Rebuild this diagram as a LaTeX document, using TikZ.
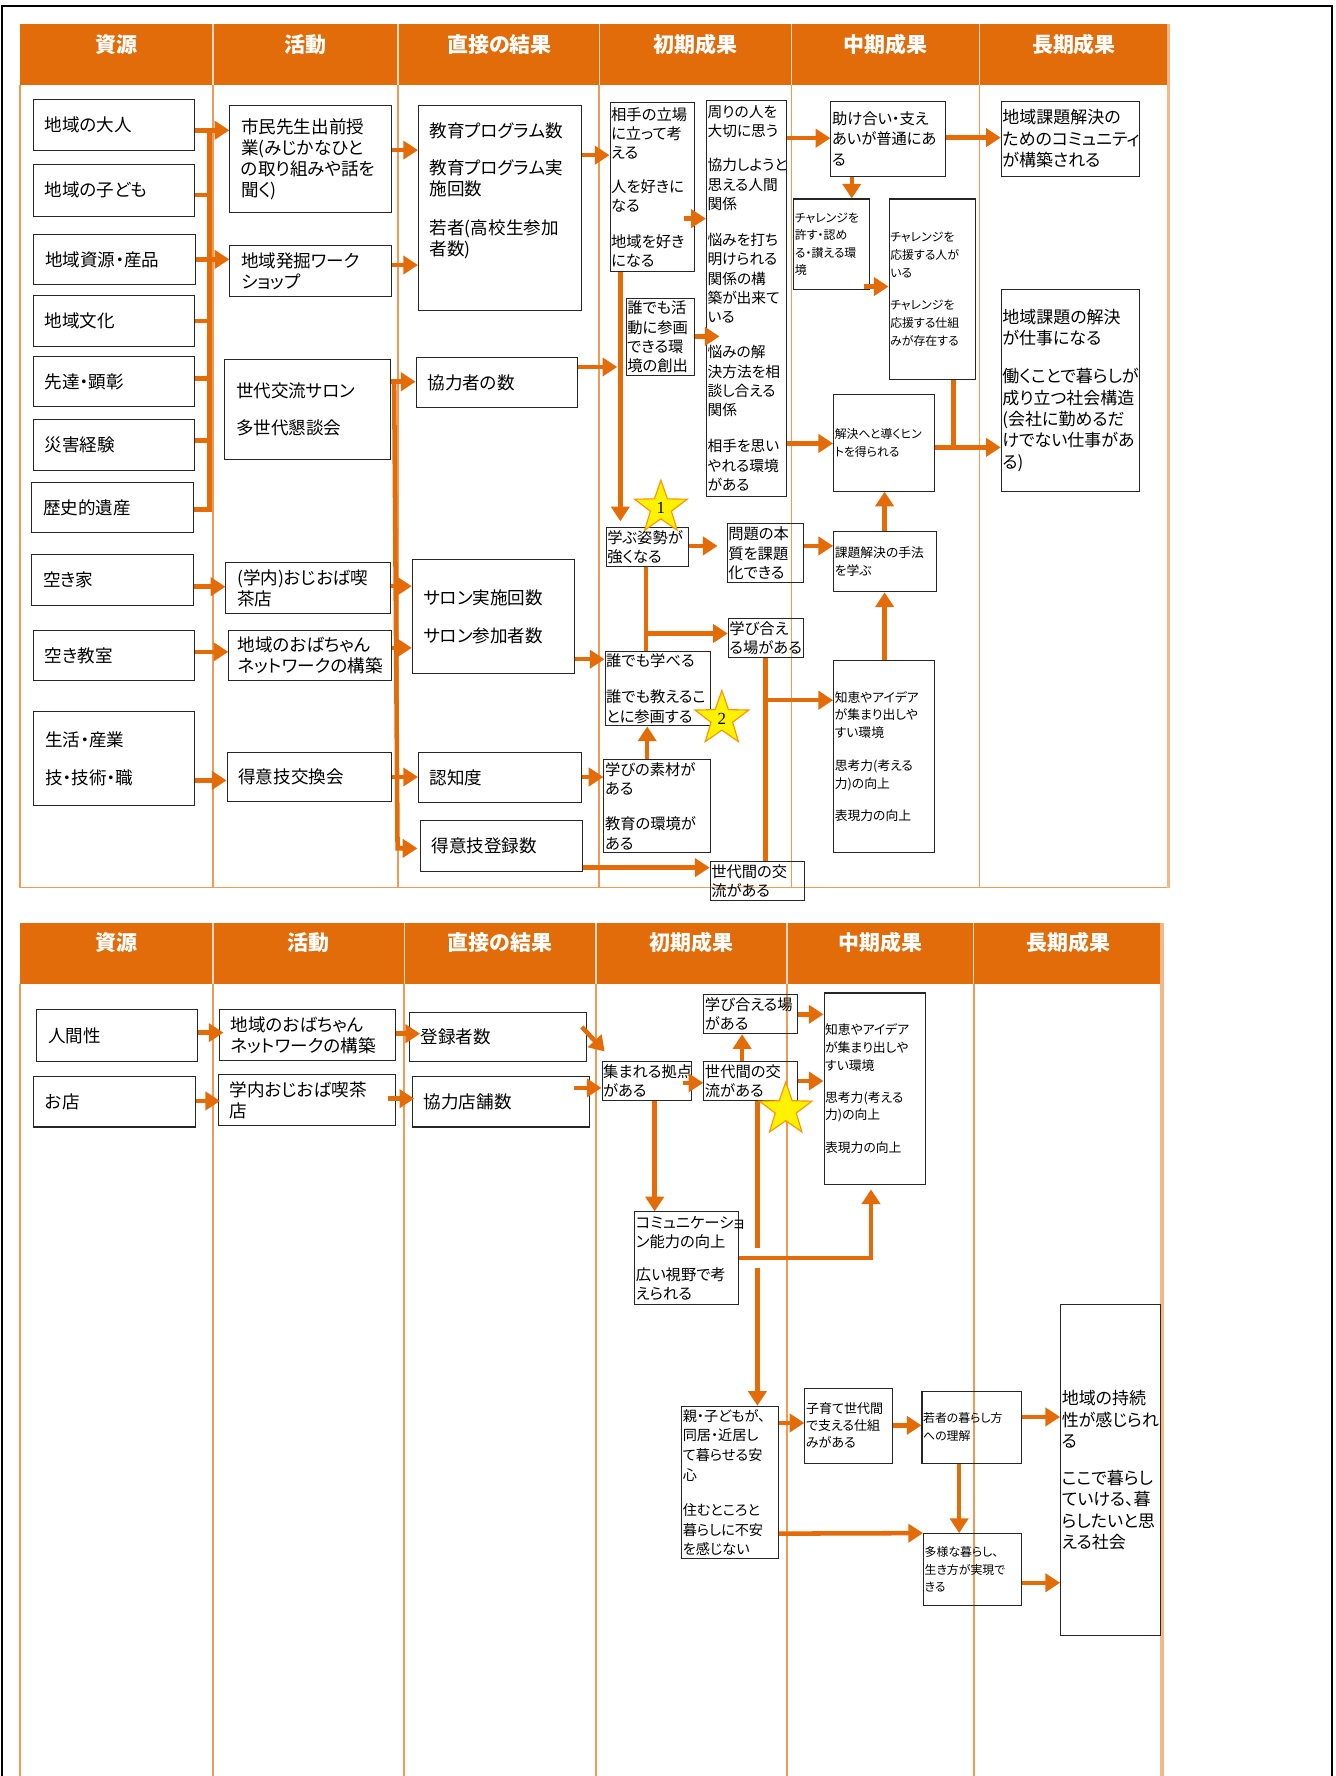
\documentclass[tikz,border=0pt]{standalone}
\usepackage{fontspec}
\setmainfont{Noto Sans CJK JP}[RawFeature=+palt]
\newfontfamily\numfont{Liberation Serif}
\usetikzlibrary{arrows.meta,shapes.geometric,calc}
\definecolor{hdr}{HTML}{E26B0A}
\definecolor{arr}{HTML}{E36C09}
\definecolor{colln}{HTML}{EF9B55}
\definecolor{edge}{HTML}{F3B888}
\tikzset{
 box/.style={draw=black!85,line width=0.9pt,rectangle,inner ysep=0pt,align=left,text=black},
 fL/.style={font=\fontsize{15.5}{18.5}\selectfont},
 fL2/.style={font=\fontsize{15}{18.8}\selectfont},
 fM/.style={font=\fontsize{13.5}{17}\selectfont},
 fM2/.style={font=\fontsize{13}{17}\selectfont},
 fMb/.style={font=\fontsize{13.5}{18}\selectfont},
 fS/.style={font=\fontsize{10.5}{15.5}\selectfont},
 fS2/.style={font=\fontsize{11.3}{15.5}\selectfont},
 fP/.style={font=\fontsize{12.5}{17.3}\selectfont},
 fT/.style={font=\fontsize{11.5}{15}\selectfont},
 arw/.style={draw=arr,line width=4pt,-{Triangle[length=13pt,width=16pt]}},
 ln/.style={draw=arr,line width=4pt},
 hd/.style={text=white,font=\fontsize{18.5}{20}\selectfont\bfseries},
 starsty/.style={star,star points=5,star point ratio=2.5,fill=yellow,draw=orange!85!yellow,line width=1pt,inner sep=0pt,font=\numfont\fontsize{15}{15}\selectfont},
}
% #1 style, #2 pad, #3 name, #4 x1, #5 y1, #6 x2, #7 y2, #8 text
\newcommand\lmbox[8]{%
\pgfmathsetmacro\bxcx{(#4+#6)/2}\pgfmathsetmacro\bxcy{(#5+#7)/2}%
\pgfmathsetmacro\bxw{#6-#4}\pgfmathsetmacro\bxh{#7-#5}\pgfmathsetmacro\bxt{#6-#4-2*#2}%
\node[box,#1,inner xsep=#2pt,minimum width=\bxw pt,minimum height=\bxh pt,text width=\bxt pt] (#3) at (\bxcx,\bxcy) {#8};}
\begin{document}
\begin{tikzpicture}[x=1pt,y=-1pt]
\useasboundingbox (0,0) rectangle (1179,1568);
% frame
\draw[black,line width=2pt] (1.7,1568) -- (1.7,5.3) -- (1176,5.3) -- (1176,1568);
% ---------- top panel structure
\fill[hdr] (17.6,21.2) rectangle (1031.7,75);
\foreach \x in {188,351.5,529,698.8,864.7}{
  \draw[white!75!hdr,line width=1.2pt] (\x,21.2) -- (\x,75);
  \draw[colln,line width=1.5pt] (\x,75) -- (\x,783.6);}
\draw[colln,line width=1.5pt] (17.6,75) -- (17.6,783.6) -- (1031.7,783.6);
\draw[edge,line width=3pt] (1031.7,21.2) -- (1031.7,783.6);
\node[hd] (h1) at (103,39.5) {資源};
\node[hd] (h2) at (270,39.5) {活動};
\node[hd] (h3) at (441,39.5) {直接の結果};
\node[hd] (h4) at (613.9,39.5) {初期成果};
\node[hd] (h5) at (781.8,39.5) {中期成果};
\node[hd] (h6) at (948.2,39.5) {長期成果};
% ---------- bottom panel structure
\fill[hdr] (17.5,814.8) rectangle (1026,868.4);
\foreach \x in {187.9,356.9,526.2,694.7,859.7}{
  \draw[white!75!hdr,line width=1.2pt] (\x,814.8) -- (\x,868.4);
  \draw[colln,line width=1.5pt] (\x,868.4) -- (\x,1568);}
\draw[colln,line width=1.5pt] (17.5,868.4) -- (17.5,1568);
\draw[edge,line width=3pt] (1026,814.8) -- (1026,1568);
\node[hd] (g1) at (103,832.5) {資源};
\node[hd] (g2) at (272,832.5) {活動};
\node[hd] (g3) at (441.5,832.5) {直接の結果};
\node[hd] (g4) at (610.5,832.5) {初期成果};
\node[hd] (g5) at (777.2,832.5) {中期成果};
\node[hd] (g6) at (943,832.5) {長期成果};
% ---------- top boxes
\lmbox{fL}{10}{r1}{29.4}{88}{172}{132.5}{地域の大人}
\lmbox{fL}{10}{r2}{29.4}{145}{172}{191}{地域の子ども}
\lmbox{fL}{10}{r3}{30}{207}{173}{251}{地域資源・産品}
\lmbox{fL}{10}{r4}{29.4}{261}{172}{306}{地域文化}
\lmbox{fL}{10}{r5}{29.4}{315}{172}{359}{先達・顕彰}
\lmbox{fL}{10}{r6}{29.4}{370}{172}{415.6}{災害経験}
\lmbox{fL}{10}{r7}{28}{426}{171}{470}{歴史的遺産}
\lmbox{fL}{10}{r8}{28}{489.5}{171}{535}{空き家}
\lmbox{fL}{10}{r9}{29.4}{557}{172}{600.5}{空き教室}
\lmbox{fL}{10}{r10}{30}{628.5}{172}{711.5}{生活・産業\\[15.5pt]技・技術・職}
\lmbox{fL}{10}{a1}{203}{93}{346}{188}{市民先生出前授\\業(みじかなひと\\の取り組みや話を\\聞く)}
\lmbox{fL}{10}{a2}{203}{217}{346}{262}{地域発掘ワーク\\ショップ}
\lmbox{fL}{10}{a3}{198.4}{317}{345}{406}{世代交流サロン\\[13.5pt]多世代懇談会}
\lmbox{fL}{10}{a4}{199.5}{496.6}{345}{541.7}{(学内)おじおば喫\\茶店}
\lmbox{fL}{8}{a5}{202}{557}{346}{600.5}{地域のおばちゃん\\ネットワークの構築}
\lmbox{fL}{10}{a6}{200.5}{664}{346}{707.4}{得意技交換会}
\lmbox{fL}{10}{o1}{369.5}{93}{513}{274.4}{教育プログラム数\\[14pt]教育プログラム実\\施回数\\[16pt]若者(高校生参加\\者数)\\[15pt]\mbox{}}
\lmbox{fL}{10}{o2}{367.4}{316}{510}{360}{協力者の数}
\lmbox{fL}{10}{o3}{364}{494.3}{507}{595}{サロン実施回数\\[15.5pt]サロン参加者数}
\lmbox{fL}{10}{o4}{369.5}{664}{513}{708.6}{認知度}
\lmbox{fL}{10}{o5}{371}{724}{514}{769}{得意技登録数}
\lmbox{fM}{1}{s1}{538.6}{90.6}{613}{239.9}{相手の立場\\に立って考\\える\\[13pt]人を好きに\\なる\\[14pt]地域を好き\\になる}
\lmbox{fM2}{1}{s2}{623.7}{88.3}{694.7}{438.6}{周りの人を\\大切に思う\\[13pt]協力しようと\\思える人間\\関係\\[15pt]悩みを打ち\\明けられる\\関係の構\\築が出来て\\いる\\[14pt]悩みの解\\決方法を相\\談し合える\\関係\\[15pt]相手を思い\\やれる環境\\がある}
\lmbox{fM}{1}{s3}{552.8}{263.4}{613}{331.7}{誰でも活\\動に参画\\できる環\\境の創出}
\lmbox{fM}{1}{s4}{535.2}{465.7}{607.9}{499.9}{学ぶ姿勢が\\強くなる}
\lmbox{fM}{1}{s5}{642}{462.2}{709}{514.6}{問題の本\\質を課題\\化できる}
\lmbox{fM}{1}{s6}{643}{546}{709}{580.5}{学び合え\\る場がある}
\lmbox{fM}{1}{s7}{534.2}{575}{627.1}{640.9}{誰でも学べる\\[15pt]誰でも教えるこ\\とに参画する}
\lmbox{fM}{1}{s8}{533.2}{670.6}{627.1}{753}{学びの素材が\\ある\\[14pt]教育の環境が\\ある}
\lmbox{fM}{1}{s9}{627}{761}{710}{795}{世代間の交\\流がある}
\lmbox{fMb}{1}{m1}{733.6}{89.7}{835}{155.4}{助け合い・支え\\あいが普通にあ\\る}
\lmbox{fS}{1}{m2}{700.8}{175.7}{768}{255.5}{チャレンジを\\許す・認め\\る・讃える環\\境}
\lmbox{fS}{1}{m3}{785}{175.7}{861.4}{335}{チャレンジを\\応援する人が\\いる\\[13.5pt]チャレンジを\\応援する仕組\\みが存在する}
\lmbox{fS}{1}{m4}{736}{348.2}{824.9}{433.6}{解決へと導くヒン\\トを得られる}
\lmbox{fS2}{1}{m5}{736}{469}{827.2}{522.5}{課題解決の手法\\を学ぶ}
\lmbox{fS2}{1}{m6}{736}{582.9}{824.9}{753}{知恵やアイデア\\が集まり出しや\\すい環境\\[14pt]思考力(考える\\力)の向上\\[13pt]表現力の向上}
\lmbox{fL2}{1}{l1}{884}{89.7}{1005.7}{155.4}{地域課題解決の\\ためのコミュニティ\\が構築される}
\lmbox{fL2}{1}{l2}{884}{255.5}{1005.7}{433.6}{地域課題の解決\\が仕事になる\\[15pt]働くことで暮らしが\\成り立つ社会構造\\(会社に勤めるだ\\けでない仕事があ\\る)}
% ---------- bottom boxes
\lmbox{fL}{10}{br1}{32.5}{891.4}{174.6}{937.6}{人間性}
\lmbox{fL}{10}{br2}{30}{950.8}{172.2}{995}{お店}
\lmbox{fL}{10}{ba1}{193.8}{891.4}{349.2}{936.7}{地域のおばちゃん\\ネットワークの構築}
\lmbox{fL}{10}{ba2}{192.8}{948.5}{349.2}{994.1}{学内おじおば喫茶\\店}
\lmbox{fL}{10}{bo1}{361.4}{894}{517.9}{937.6}{登録者数}
\lmbox{fL}{10}{bo2}{364.2}{950.8}{520.3}{995}{協力店舗数}
\lmbox{fM}{1}{bs1}{621.4}{877.8}{704.2}{912.6}{学び合える場\\がある}
\lmbox{fM}{1}{bs2}{531.5}{937.6}{610.2}{971.4}{集まれる拠点\\がある}
\lmbox{fM}{1}{bs3}{621.4}{937.6}{704.2}{971.4}{世代間の交\\流がある}
\lmbox{fS2}{1}{bm1}{727.5}{876.7}{817}{1045.6}{知恵やアイデア\\が集まり出しや\\すい環境\\[13pt]思考力(考える\\力)の向上\\[13pt]表現力の向上}
\lmbox{fM}{1}{bs4}{560.5}{1070}{651.8}{1152}{コミュニケーショ\\ン能力の向上\\[12pt]広い視野で考\\えられる}
\lmbox{fP}{1}{bs5}{601.8}{1241.6}{687.3}{1376.2}{親・子どもが、\\同居・近居し\\て暮らせる安\\心\\[14pt]住むところと\\暮らしに不安\\を感じない}
\lmbox{fT}{1}{bm2}{710.6}{1226}{787.7}{1291.7}{子育て世代間\\で支える仕組\\みがある}
\lmbox{fS}{1}{bm3}{814}{1228.1}{902}{1291.7}{若者の暮らし方\\への理解}
\lmbox{fS}{1}{bm4}{815.4}{1354}{902}{1417.4}{多様な暮らし、\\生き方が実現で\\きる}
\lmbox{fL2}{1}{bl1}{936.4}{1152}{1024.3}{1443.9}{地域の持続\\性が感じられ\\る\\[14pt]ここで暮らし\\ていける、暮\\らしたいと思\\える社会}
% ---------- top connectors
\coordinate (bus1) at (185,115);
\coordinate (bus2) at (185,450);
\draw[ln] (r7.east |- bus2) -- (bus2) -- (bus1);
\draw[arw] (r1.east |- bus1) -- (a1.west |- bus1);
\draw[ln] (r2.east |- 0,172) -- (bus1 |- 0,172);
\draw[arw] (r3.east |- 0,229) -- (a2.west |- 0,229);
\draw[ln] (r4.east |- 0,283.5) -- (bus1 |- 0,283.5);
\draw[ln] (r5.east |- 0,334) -- (bus1 |- 0,334);
\draw[ln] (r6.east |- 0,389) -- (bus1 |- 0,389);
\draw[arw] (r8.east |- 0,518) -- (a4.west |- 0,518);
\draw[arw] (r9.east |- 0,575.5) -- (a5.west |- 0,575.5);
\draw[arw] (r10.east |- 0,689) -- (a6.west |- 0,689);
\draw[arw] (a1.east |- 0,132.5) -- (o1.west |- 0,132.5);
\draw[arw] (a2.east |- 0,234) -- (o1.west |- 0,234);
\draw[arw] (a3.east |- 0,337) -- (o2.west |- 0,337);
\coordinate (j1) at (348,337);
\coordinate (j2) at (351,749);
\draw[arw] (j1) -- (j2) -- ($(o5.west |- j2)+(-2,0)$);
\draw[arw] (a4.east |- 0,517.5) -- (o3.west |- 0,517.5);
\draw[arw] (a5.east |- 0,572) -- (o3.west |- 0,572);
\draw[arw] (a6.east |- 0,686) -- (o4.west |- 0,686);
\draw[arw] (o1.east |- 0,137) -- (s1.west |- 0,137);
\coordinate (j3) at (545,324);
\draw[arw] (o2.east |- j3) -- (j3);
\draw[arw,shorten >=5pt] (s1.south -| 547.7,0) -- (s4.north -| 547.7,0);
\draw[arw] (o3.east |- 0,582) -- (s7.west |- 0,582);
\draw[arw] (o4.east |- 0,686) -- (s8.west |- 0,686);
\draw[arw] (o5.east |- 0,766) -- (s9.west |- 0,766);
\draw[arw] ($(s1.east |- 0,193)+(-10,0)$) -- (s2.west |- 0,193);
\draw[arw] (s3.east |- 0,297) -- ($(s2.west |- 0,297)+(12,0)$);
\draw[arw] (s4.east |- 0,482) -- ($(s5.west |- 0,482)+(-8,0)$);
\draw[arw] (s5.east |- 0,482) -- (m5.west |- 0,482);
\draw[ln] (s4.south -| 570.3,0) -- (s7.north -| 570.3,0);
\coordinate (j4) at (570.3,559.3);
\draw[arw] (j4) -- (s6.west |- j4);
\draw[arw] (s8.north -| 571.4,0) -- (s7.south -| 571.4,0);
\draw[ln] (s6.south -| 676,0) -- (s9.north -| 676,0);
\coordinate (j5) at (676,618.2);
\draw[arw] (j5) -- (m6.west |- j5);
\draw[arw] (s2.east |- 0,122) -- (m1.west |- 0,122);
\draw[arw] (m1.east |- 0,121.5) -- (l1.west |- 0,121.5);
\draw[arw] (m1.south -| 752,0) -- (m2.north -| 752,0);
\draw[arw] ($(m2.east |- 0,253)+(-6,0)$) -- (m3.west |- 0,253);
\draw[arw] (s2.east |- 0,391.5) -- (m4.west |- 0,391.5);
\coordinate (j6) at (841.8,395);
\draw[ln] (m3.south -| j6) -- (j6);
\draw[arw] (m4.east |- j6) -- (l2.west |- j6);
\draw[arw] (m5.north -| 781,0) -- (m4.south -| 781,0);
\draw[arw] (m6.north -| 781,0) -- (m5.south -| 781,0);
% ---------- bottom connectors
\draw[arw] (br1.east |- 0,911.7) -- ($(ba1.west |- 0,911.7)+(4,0)$);
\draw[arw] (br2.east |- 0,972) -- ($(ba2.west |- 0,972)+(2,0)$);
\draw[arw] (ba1.east |- 0,912.6) -- ($(bo1.west |- 0,912.6)+(10,0)$);
\draw[arw] ($(ba2.east |- 0,970)+(-7,0)$) -- ($(bo2.west |- 0,970)+(2,0)$);
\draw[arw] ($(bo1.east |- 0,906.7)+(-4.6,0)$) -- ($(bs2.north west)+(2.8,-8.8)$);
\draw[arw] ($(bo2.east |- 0,960.5)+(-14,0)$) -- (bs2.west |- 0,960.5);
\draw[arw] ($(bs2.east |- 0,956)+(-7.4,0)$) -- (bs3.west |- 0,956);
\draw[arw] (bs3.north -| 655.2,0) -- (bs1.south -| 655.2,0);
\draw[arw] (bs1.east |- 0,895.5) -- (bm1.west |- 0,895.5);
\draw[arw] (bs3.east |- 0,954.4) -- (bm1.west |- 0,954.4);
\draw[arw] (bs2.south -| 578,0) -- (bs4.north -| 578,0);
\coordinate (j7) at (769,1110.7);
\draw[arw] (bs4.east |- j7) -- (j7) -- ($(bm1.south -| j7)+(0,4)$);
\coordinate (j8) at (668.7,1101.6);
\coordinate (j9) at (668.7,1119.2);
\draw[ln] (bs3.south -| j8) -- (j8);
\draw[arw] (j9) -- (bs5.north -| j9);
\draw[arw] (bs5.east |- 0,1256.3) -- (bm2.west |- 0,1256.3);
\draw[arw] (bm2.east |- 0,1258.4) -- (bm3.west |- 0,1258.4);
\draw[arw] (bm3.east |- 0,1251) -- (bl1.west |- 0,1251);
\draw[arw] (bm3.south -| 846.8,0) -- (bm4.north -| 846.8,0);
\draw[arw] (bs5.east |- 0,1354) -- (bm4.north west);
\draw[arw] (bm4.east |- 0,1397.4) -- (bl1.west |- 0,1397.4);
% ---------- stars
\node[starsty,minimum size=48.8pt] (st1) at (583.5,448.3) {1};
\node[starsty,minimum size=50pt] (st2) at (637.3,634.6) {2};
\node[starsty,minimum size=48.8pt] (st3) at (693.7,979.7) {};
\end{tikzpicture}
\end{document}
